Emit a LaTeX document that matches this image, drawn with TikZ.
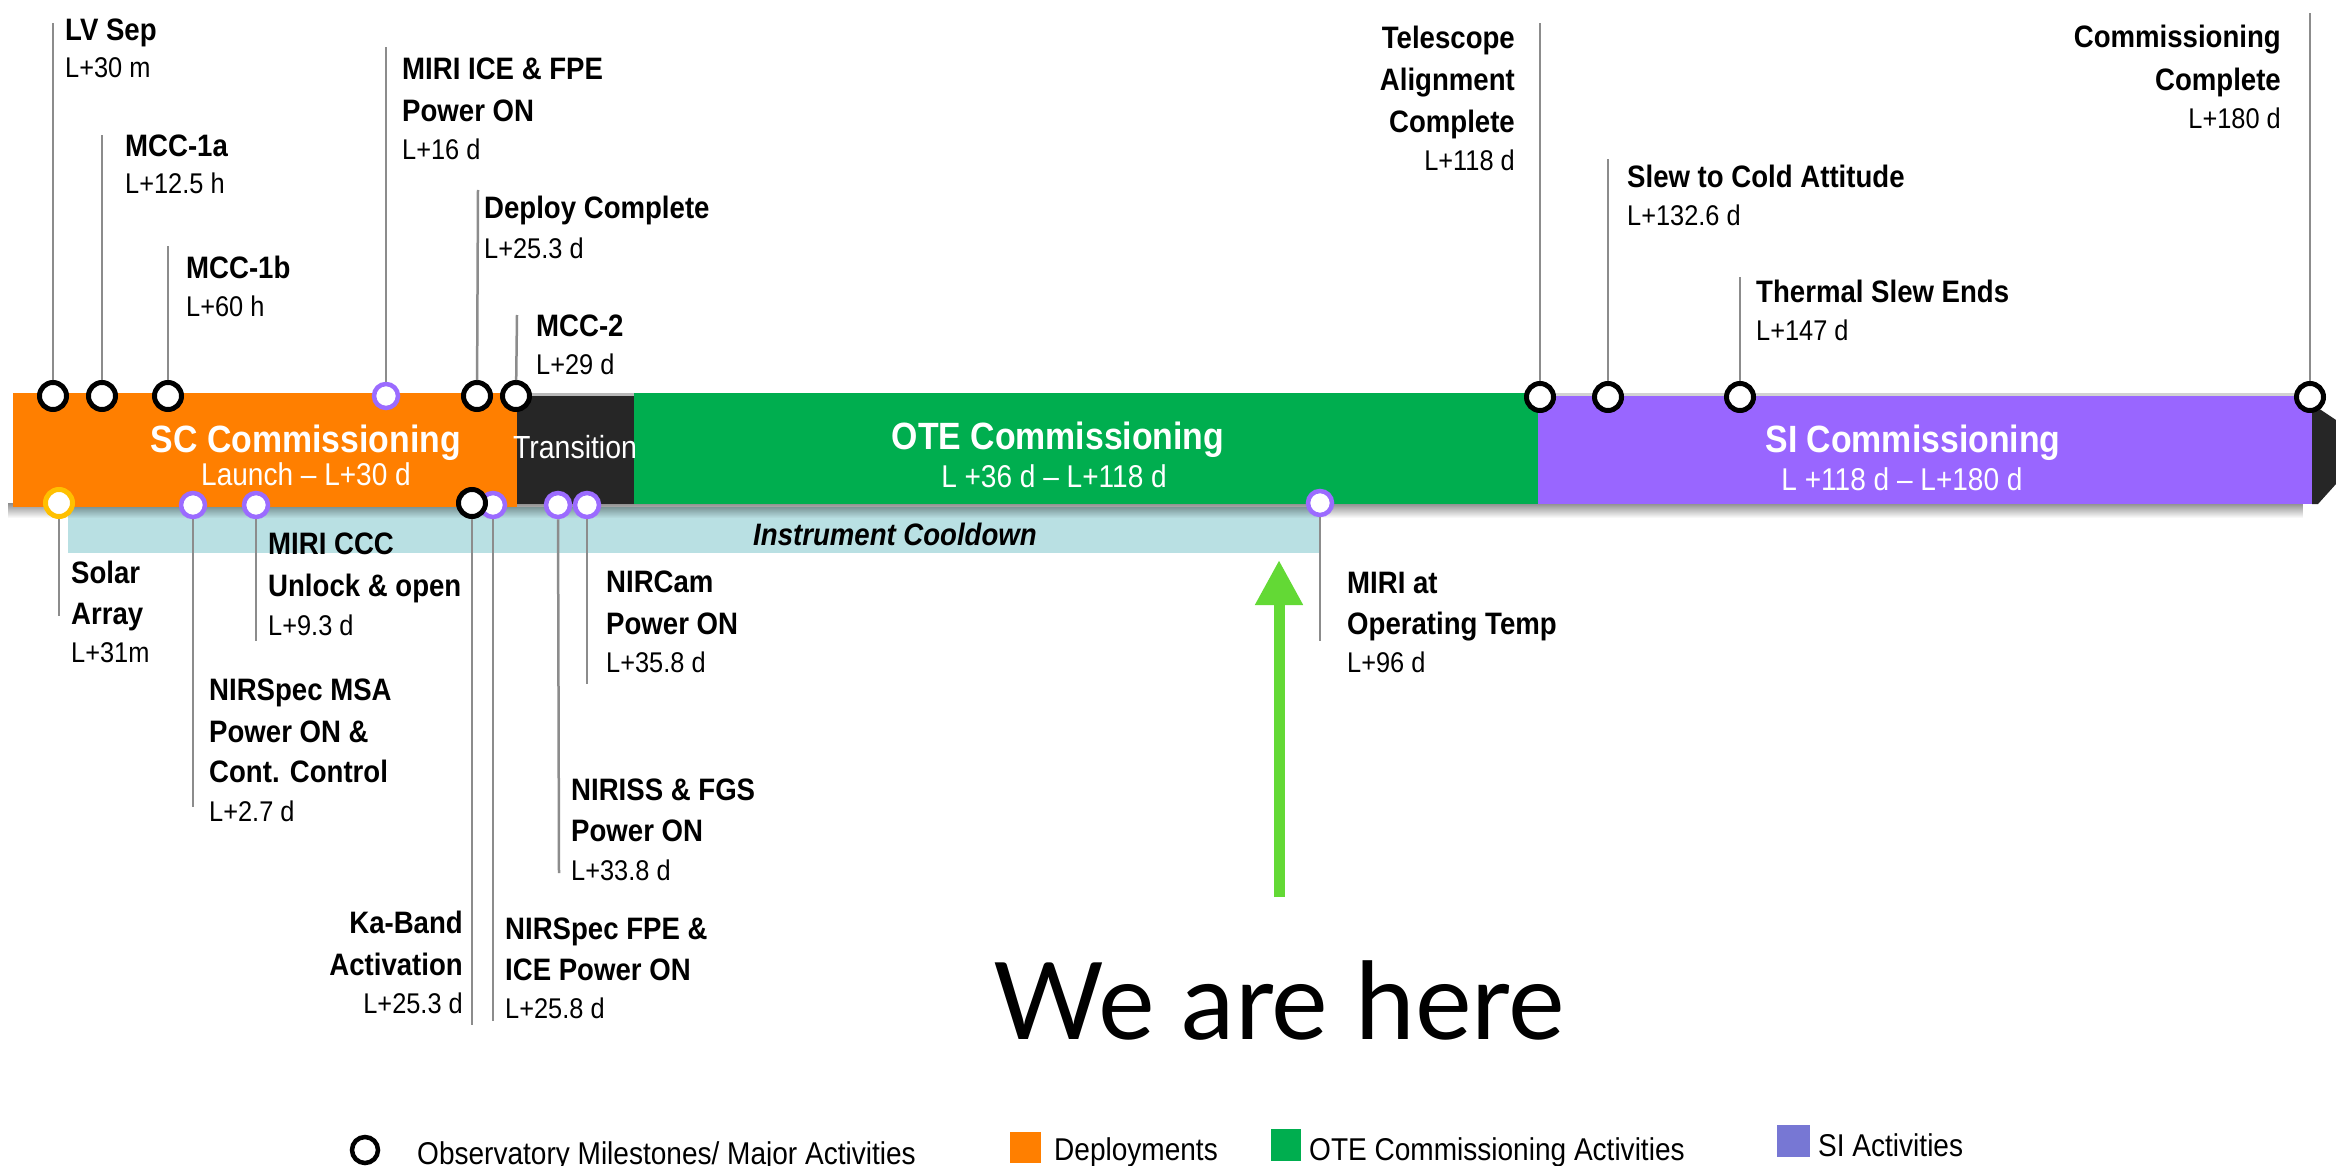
\documentclass[tikz,border=0pt]{standalone}
\usepackage{fontspec}
\setmainfont{Liberation Sans}[FakeStretch=0.89]
\newfontfamily\herefont{Lato}
\usetikzlibrary{arrows.meta,fadings}
\definecolor{scorange}{HTML}{FF7F00}
\definecolor{transdark}{HTML}{262626}
\definecolor{otegreen}{HTML}{00AE4F}
\definecolor{sipurple}{HTML}{9966FF}
\definecolor{mspurple}{HTML}{9B6BFF}
\definecolor{msyellow}{HTML}{FFC000}
\definecolor{cooldown}{HTML}{B9E0E3}
\definecolor{legsi}{HTML}{7777D4}
\definecolor{herearrow}{HTML}{63D935}
\definecolor{leadergray}{HTML}{8C8C8C}
\newcommand\regline{\fontsize{28.5}{38}\selectfont\mdseries}
\begin{document}
\begin{tikzpicture}[x=1pt,y=-1pt,
 ms/.style={circle, draw=black, fill=white, line width=5pt, minimum size=27pt, inner sep=0pt},
 msp/.style={ms, draw=mspurple, line width=4.5pt, minimum size=24pt},
 msy/.style={ms, draw=msyellow},
 leader/.style={draw=leadergray, line width=2.5pt},
 lab/.style={inner sep=0pt, align=left, anchor=north west, font=\fontsize{31}{40}\selectfont\bfseries},
 labr/.style={lab, align=right, anchor=north east},
 barbig/.style={inner sep=0pt, anchor=base, text=white, font=\fontsize{38}{40}\selectfont\bfseries},
 barsub/.style={inner sep=0pt, anchor=base, text=white, font=\fontsize{31.5}{36}\selectfont},
 legtext/.style={inner sep=0pt, anchor=base west, font=\fontsize{31.5}{34}\selectfont},
]
\useasboundingbox (0,0) rectangle (2336,1166);
\fill[white] (0,0) rectangle (2336,1166);

% cooldown band
\fill[cooldown] (68,507) rectangle (1320,553);
% shadow under bars
\fill[black, opacity=0.45, path fading=south] (13,503) rectangle (2318,518);
% bars
\fill[scorange] (13,393) rectangle (517,507);
\fill[gray!55] (517,393) rectangle (634,396);
\fill[transdark] (517,396) rectangle (634,504);
\fill[otegreen] (634,393) rectangle (1538,504);
\fill[gray!35] (1538,393) rectangle (2311,396);
\fill[sipurple] (1538,396) rectangle (2312,504);
\fill[transdark] (2312,404) -- (2336,420) -- (2336,484) -- (2318,504) -- (2312,504) -- cycle;

% bar texts
\node[barbig] (tSC) at (306,452) {SC Commissioning};
\node[barsub] (tSCs) at (306,485) {Launch – L+30 d};
\node[barsub, font=\fontsize{32}{36}\selectfont] (tTr) at (575,458) {Transition};
\node[barbig] (tOTE) at (1058,449) {OTE Commissioning};
\node[barsub] (tOTEs) at (1054,487) {L +36 d – L+118 d};
\node[barbig] (tSI) at (1913,452) {SI Commissioning};
\node[barsub] (tSIs) at (1902,490) {L +118 d – L+180 d};
\node[inner sep=0pt, anchor=base, font=\fontsize{31}{34}\selectfont\bfseries\itshape] (tCool) at (895,545) {Instrument Cooldown};

% top milestones
\node[ms] (cLV) at (53,396) {};
\node[ms] (cMa) at (102,396) {};
\node[ms] (cMb) at (168,396) {};
\node[msp] (cMiri) at (386,396) {};
\node[ms] (cDep) at (477,396) {};
\node[ms] (cM2) at (516,396) {};
\node[ms] (cTel) at (1540,397) {};
\node[ms] (cSlew) at (1608,397) {};
\node[ms] (cTher) at (1740,397) {};
\node[ms] (cComm) at (2310,397) {};

\coordinate (tLV) at (53,23);
\coordinate (tMa) at (102,135);
\coordinate (tMb) at (168,246);
\coordinate (tMiri) at (386,47);
\coordinate (tDep) at (478,190);
\coordinate (tM2) at (517,315);
\coordinate (tTel) at (1540,23);
\coordinate (tSlew) at (1608,159);
\coordinate (tTher) at (1740,277);
\coordinate (tComm) at (2310,13);
\foreach \n in {LV,Ma,Mb,Miri,Dep,M2,Tel,Slew,Ther,Comm} {\draw[leader] (c\n) -- (t\n);}

\node[lab] (lLV) at (65,19) {LV Sep\\[-3pt]\regline L+30 m};
\node[lab] (lMa) at (125,134.5) {MCC-1a\\[-3pt]\regline L+12.5 h};
\node[lab] (lMb) at (186,255.5) {MCC-1b\\[-2pt]\regline L+60 h};
\node[lab] (lMiri) at (402,57.5) {MIRI ICE \& FPE\\[2pt]Power ON\\[-2pt]\regline L+16 d};
\node[lab] (lDep) at (484,195.5) {Deploy Complete\\\regline L+25.3 d};
\node[lab] (lM2) at (536,314.5) {MCC-2\\[-2pt]\regline L+29 d};
\node[labr] (lTel) at (1515,25.5) {Telescope\\[2pt]Alignment\\[2pt]Complete\\[-2pt]\regline L+118 d};
\node[lab] (lSlew) at (1627,164.5) {Slew to Cold Attitude\\[-2pt]\regline L+132.6 d};
\node[lab] (lTher) at (1756,279.5) {Thermal Slew Ends\\[-2pt]\regline L+147 d};
\node[labr] (lComm) at (2281,24.5) {Commissioning\\[3pt]Complete\\[-2pt]\regline L+180 d};

% bottom milestones
\node[msy] (cSolar) at (59,503) {};
\node[msp] (cMSA) at (193,505) {};
\node[msp] (cCCC) at (256,505) {};
\node[msp] (cFPE) at (493,505) {};
\node[ms] (cKa) at (472,503) {};
\node[msp] (cNIRISS) at (558,505) {};
\node[msp] (cNIRCam) at (587,505) {};
\node[msp] (cMIRIop) at (1320,503) {};

\coordinate (bSolar) at (59,616);
\coordinate (bMSA) at (193,807);
\coordinate (bCCC) at (256,641);
\coordinate (bFPE) at (493,1021);
\coordinate (bKa) at (472,1025);
\coordinate (bNIRISS) at (559,873);
\coordinate (bNIRCam) at (587,684);
\coordinate (bMIRIop) at (1320,641);
\foreach \n in {Solar,MSA,CCC,FPE,Ka,NIRISS,NIRCam,MIRIop} {\draw[leader] (c\n) -- (b\n);}

\node[lab] (lSolar) at (71,561) {Solar\\[1pt]Array\\[-2pt]\regline L+31m};
\node[lab] (lMSA) at (209,678.5) {NIRSpec MSA\\[2.5pt]Power ON \&\\Cont. Control\\[-1.5pt]\regline L+2.7 d};
\node[lab] (lCCC) at (268,532.5) {MIRI CCC\\[2pt]Unlock \& open\\[-1pt]\regline L+9.3 d};
\node[labr] (lKa) at (463,911) {Ka-Band\\[2pt]Activation\\[-2pt]\regline L+25.3 d};
\node[lab] (lFPE) at (505,918) {NIRSpec FPE \&\\[1pt]ICE Power ON\\[-2pt]\regline L+25.8 d};
\node[lab] (lNIRISS) at (571,779) {NIRISS \& FGS\\[1pt]Power ON\\[-1pt]\regline L+33.8 d};
\node[lab] (lNIRCam) at (606,571) {NIRCam\\[2pt]Power ON\\[-2.5pt]\regline L+35.8 d};
\node[lab] (lMIRIop) at (1347,571.5) {MIRI at\\[1pt]Operating Temp\\[-2pt]\regline L+96 d};

% we are here
\coordinate (arrowtail) at (1279,897);
\coordinate (arrowtip) at (1279,560);
\draw[herearrow, line width=11pt, -{Triangle[width=45pt,length=45pt]}] (arrowtail) -- (arrowtip);
\node[inner sep=0pt, anchor=base west, font=\herefont\fontsize{107}{110}\selectfont] (here) at (993,1039) {We are here};

% legend
\node[ms, line width=4.5pt, minimum size=26pt] (legms) at (365,1150) {};
\node[legtext] (legmst) at (417,1164) {Observatory Milestones/ Major Activities};
\fill[scorange] (1010,1132) rectangle (1041,1163);
\node[legtext] (legdep) at (1054,1160) {Deployments};
\fill[otegreen] (1271,1129) rectangle (1301,1161);
\node[legtext] (legote) at (1309,1160) {OTE Commissioning Activities};
\fill[legsi] (1777,1125) rectangle (1810,1157);
\node[legtext] (legsi) at (1818,1156) {SI Activities};
\end{tikzpicture}
\end{document}
